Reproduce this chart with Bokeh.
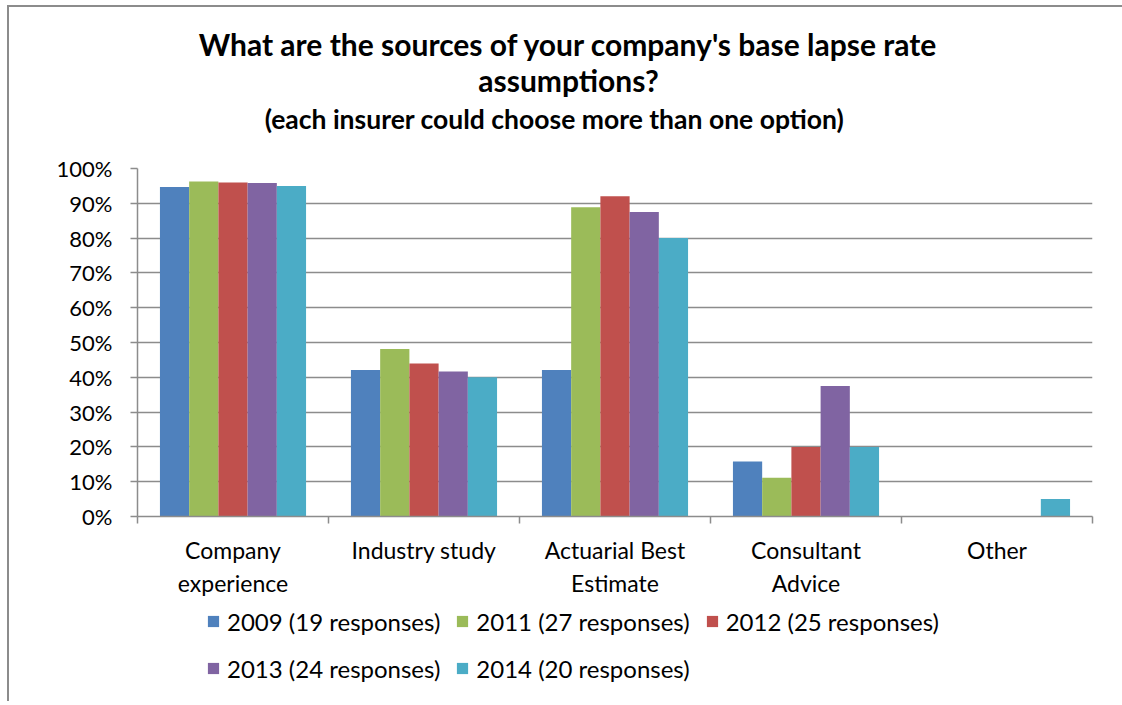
from bokeh.plotting import figure
from bokeh.layouts import column
from bokeh.models import FixedTicker, NumeralTickFormatter, Label, Legend, LegendItem, Range1d, ColumnDataSource
from bokeh.transform import dodge
from bokeh.embed import file_html
from bokeh.resources import INLINE

categories = ["Company\nexperience", "Industry study", "Actuarial Best\nEstimate", "Consultant\nAdvice", "Other"]
series_names = ["2009 (19 responses)", "2011 (27 responses)", "2012 (25 responses)",
                "2013 (24 responses)", "2014 (20 responses)"]
v2009 = [0.947, 0.421, 0.421, 0.158, 0.0]
v2011 = [0.963, 0.481, 0.889, 0.111, 0.0]
v2012 = [0.960, 0.440, 0.920, 0.200, 0.0]
v2013 = [0.958, 0.417, 0.875, 0.375, 0.0]
v2014 = [0.950, 0.400, 0.800, 0.200, 0.050]
y_ticks = [i / 10 for i in range(11)]
title_lines = ["What are the sources of your company's base lapse rate", "assumptions?"]
subtitle = "(each insurer could choose more than one option)"

values = [v2009, v2011, v2012, v2013, v2014]
colors = ["#4F81BD", "#9BBB59", "#C0504D", "#8064A2", "#4BACC6"]

FONT = "Lato"
GRID = "#8c8c8c"
W = 1113
FL = 137  # frame left in window pixels (strips share the main frame's left edge)

# ---- title strip ----
TH = 141
tf = figure(width=W, height=TH, output_backend="svg", toolbar_location=None,
            x_axis_type=None, y_axis_type=None, min_border=0,
            x_range=Range1d(0, 1), y_range=Range1d(0, 1))
tf.outline_line_color = None
tf.xgrid.visible = False
tf.ygrid.visible = False
for txt, cx, cy, size in [(title_lines[0], 568, 47, "30px"), (title_lines[1], 568, 83, "30px"),
                          (subtitle, 554, 122, "26.5px")]:
    tf.add_layout(Label(x=cx - FL, y=152 - cy, x_units="screen", y_units="screen", text=txt,
                        text_align="center", text_baseline="middle", text_font=FONT,
                        text_font_size=size, text_font_style="bold", text_color="black"))

# ---- main chart ----
fl, fw, fh, bt, bb = 128, 955, 348, 20, 85
p = figure(width=W, height=bt + fh + bb, output_backend="svg", toolbar_location=None,
           x_range=Range1d(0, len(categories)), y_range=Range1d(0, 1),
           min_border_left=fl, min_border_right=W - fl - fw,
           min_border_top=bt, min_border_bottom=bb)
p.outline_line_color = None

centers = [i + 0.5 for i in range(len(categories))]
bw = 0.153
for k, (vals, c) in enumerate(zip(values, colors)):
    src = ColumnDataSource(dict(x=centers, top=vals))
    p.vbar(x=dodge("x", (k - 2) * bw, range=p.x_range), top="top", width=bw, source=src,
           fill_color=c, line_color=None)

xa = p.xaxis[0]
xa.ticker = FixedTicker(ticks=centers, minor_ticks=list(range(len(categories) + 1)))
xa.major_label_overrides = {cx: cat for cx, cat in zip(centers, categories)}
xa.major_tick_out = 0
xa.major_tick_in = 0
xa.minor_tick_out = 7
xa.minor_tick_in = 0
xa.minor_tick_line_color = GRID
xa.minor_tick_line_width = 1.5
xa.axis_line_color = GRID
xa.axis_line_width = 1.5
xa.major_label_text_font = FONT
xa.major_label_text_font_size = "23px"
xa.major_label_text_color = "black"
xa.major_label_standoff = 12

ya = p.yaxis[0]
ya.ticker = FixedTicker(ticks=y_ticks)
ya.formatter = NumeralTickFormatter(format="0%")
ya.major_tick_out = 7
ya.major_tick_in = 0
ya.minor_tick_line_color = None
ya.major_tick_line_color = GRID
ya.major_tick_line_width = 1.5
ya.axis_line_color = GRID
ya.axis_line_width = 1.5
ya.major_label_text_font = FONT
ya.major_label_text_font_size = "22px"
ya.major_label_text_color = "black"
ya.major_label_standoff = 18

p.xgrid.grid_line_color = None
p.ygrid.grid_line_color = GRID
p.ygrid.grid_line_width = 1.5
p.ygrid.ticker = FixedTicker(ticks=y_ticks)

# ---- legend strip (proxy renderers lie outside this strip's ranges, only the legend shows) ----
LH = 100
lf = figure(width=W, height=LH, output_backend="svg", toolbar_location=None,
            x_axis_type=None, y_axis_type=None, min_border=0,
            x_range=Range1d(0, len(categories)), y_range=Range1d(2, 3))
lf.outline_line_color = None
lf.xgrid.visible = False
lf.ygrid.visible = False
items = []
for name, vals, c in zip(series_names, values, colors):
    r = lf.vbar(x=centers, top=vals, width=bw, fill_color=c, line_color=None)
    items.append(LegendItem(label=name, renderers=[r]))
lg = Legend(items=items, ncols=3, orientation="horizontal",
            location=(206 - FL, 17),
            border_line_color=None, background_fill_alpha=0,
            padding=0, margin=0, spacing=15,
            glyph_width=14, glyph_height=14, label_height=32, label_standoff=7,
            label_text_font=FONT, label_text_font_size="24px", label_text_color="black")
lf.add_layout(lg, "center")

layout = column(tf, p, lf, spacing=0)
layout.margin = (5, 0, 0, 7)
layout.styles = {"border-left": "2px solid #8c8c8c", "border-top": "2px solid #8c8c8c"}

open("out.html", "w").write(file_html(layout, INLINE))
